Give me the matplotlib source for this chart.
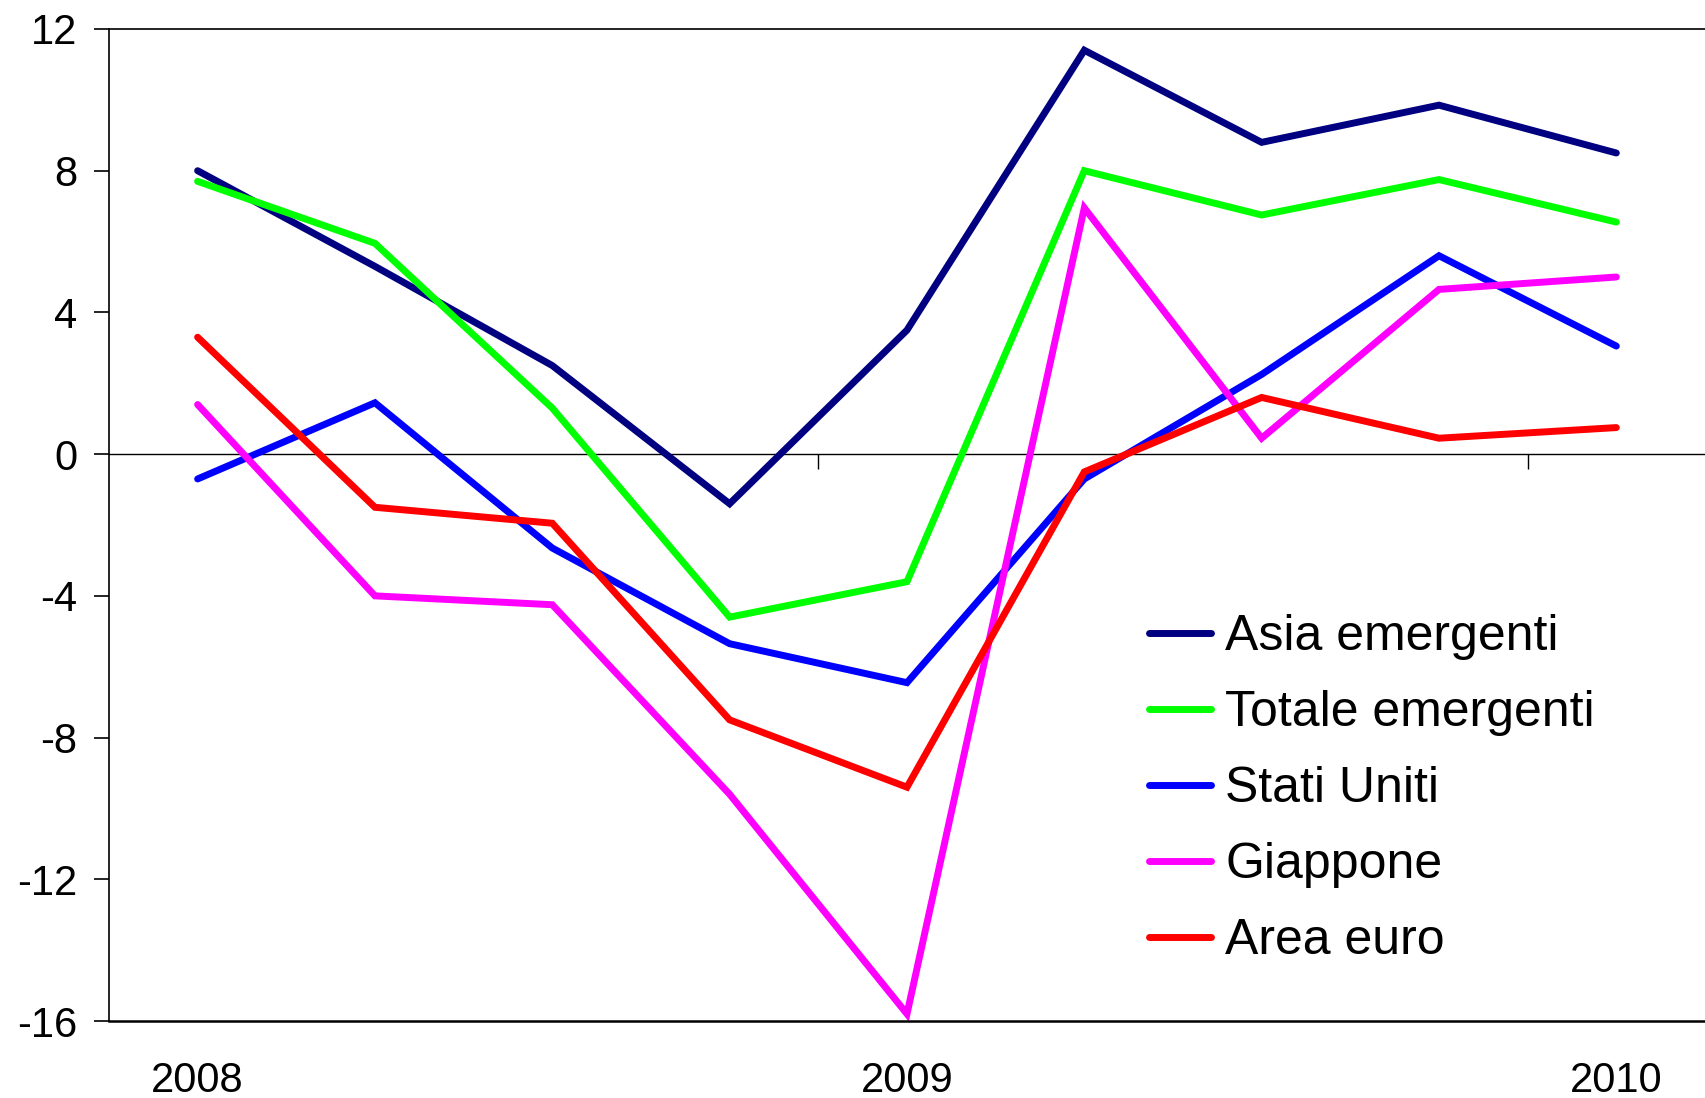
import matplotlib
matplotlib.use("Agg")
import matplotlib.pyplot as plt
import numpy as np

plt.rcParams['font.family'] = ['Liberation Sans', 'DejaVu Sans']

# Quarterly periods, 2008 Q1 .. 2010 Q1
periods = ["2008", "", "", "", "2009", "", "", "", "2010"]

asia_emergenti = [8.0, 5.3, 2.5, -1.4, 3.5, 11.4, 8.8, 9.85, 8.5]
totale_emergenti = [7.7, 5.95, 1.3, -4.6, -3.6, 8.0, 6.75, 7.75, 6.55]
stati_uniti = [-0.7, 1.45, -2.65, -5.35, -6.45, -0.7, 2.25, 5.6, 3.05]
giappone = [1.4, -4.0, -4.25, -9.6, -15.8, 6.95, 0.45, 4.65, 5.0]
area_euro = [3.3, -1.5, -1.95, -7.5, -9.4, -0.5, 1.6, 0.45, 0.75]

series = [
    ("Asia emergenti", asia_emergenti, "#000080"),
    ("Totale emergenti", totale_emergenti, "#00FF00"),
    ("Stati Uniti", stati_uniti, "#0000FF"),
    ("Giappone", giappone, "#FF00FF"),
    ("Area euro", area_euro, "#FF0000"),
]

y_ticks = [-16, -12, -8, -4, 0, 4, 8, 12]
year_boundaries = [3.5, 7.5]

fig = plt.figure(figsize=(17.05, 10.98), dpi=100)
ax = fig.add_axes([0.0639, 0.0701, 0.9361, 0.9035])

x = np.arange(len(periods))
for name, vals, color in series:
    ax.plot(x, vals, color=color, lw=5.0, label=name,
            solid_capstyle='round', solid_joinstyle='miter')

ax.set_xlim(-0.5, len(periods) - 0.5)
ax.set_ylim(-16, 12)

# y axis
ax.set_yticks(y_ticks)
ax.set_yticklabels([str(v) for v in y_ticks], fontsize=30)
ax.tick_params(axis='y', direction='out', length=11, width=1.2, pad=12)

# period labels along the bottom, without tick marks
ax.set_xticks(x[::4])
ax.set_xticklabels([periods[i] for i in x[::4]], fontsize=30)
ax.tick_params(axis='x', length=0, pad=29)

for side in ['left', 'top']:
    ax.spines[side].set_linewidth(1.2)
    ax.spines[side].set_color('black')
ax.spines['bottom'].set_linewidth(1.8)
ax.spines['right'].set_visible(False)

# zero line with year-boundary tick marks hanging below it
ax.axhline(0, color='black', lw=1.0, zorder=1)
zero_pos = (0 - (-16)) / (12 - (-16))
sec = ax.secondary_xaxis(zero_pos)
sec.set_xticks(year_boundaries)
sec.set_xticklabels([])
sec.tick_params(axis='x', direction='in', length=11, width=1.0)
sec.spines['bottom'].set_visible(False)
sec.spines['top'].set_visible(False)

leg = ax.legend(loc='upper left', bbox_to_anchor=(0.639, 0.43),
                frameon=False, fontsize=36, handlelength=1.25,
                handletextpad=0.28, labelspacing=0.6, borderaxespad=0)

fig.savefig("out.png", dpi=100)
